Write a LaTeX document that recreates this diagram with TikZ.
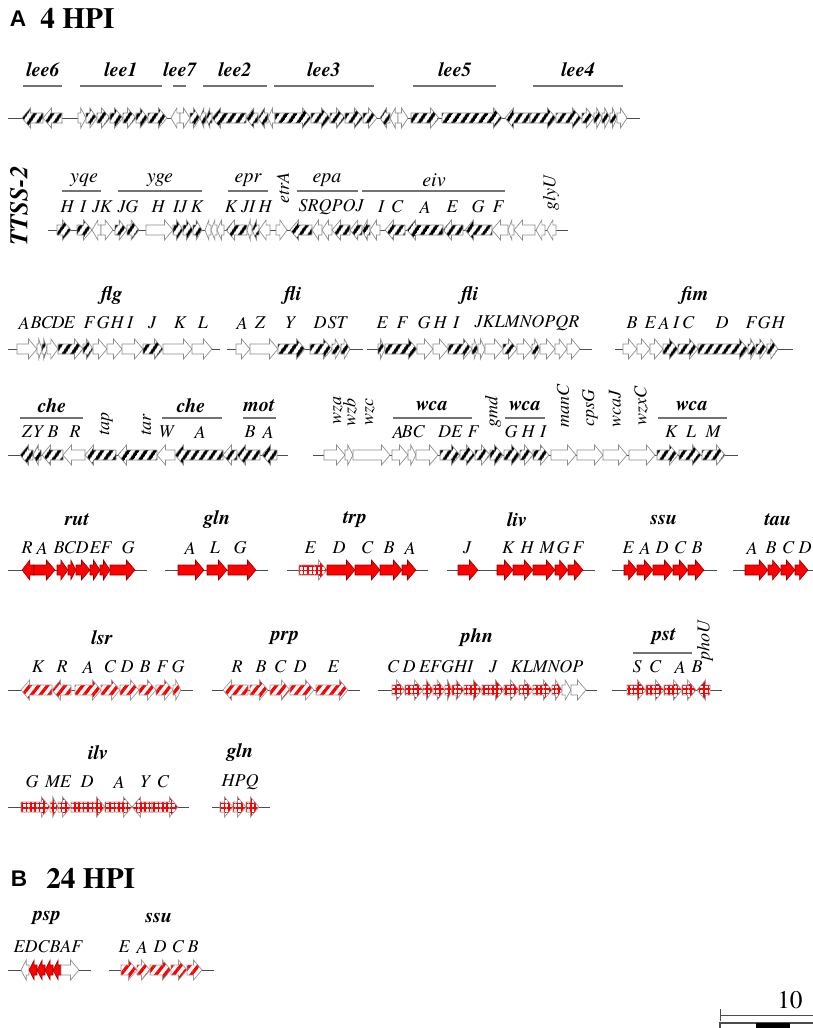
\documentclass[tikz,border=0pt]{standalone}
\usepackage{fontspec}
\setmainfont{texgyretermes}[Extension=.otf,UprightFont=*-regular,BoldFont=*-bold,ItalicFont=*-italic,BoldItalicFont=*-bolditalic]
\newfontfamily\sansb{Liberation Sans}
\usetikzlibrary{patterns.meta}
\newcounter{nn}
\newcommand\G[4]{%
  \pgfmathsetmacro\hl{min(8.5,0.65*(#2-#1))}%
  \if#3r
    \path[#4] (#1,-5) -- ({#2-\hl},-5) -- ({#2-\hl},-10) -- (#2,0) -- ({#2-\hl},10) -- ({#2-\hl},5) -- (#1,5) -- cycle;
  \else
    \path[#4] (#2,-5) -- ({#1+\hl},-5) -- ({#1+\hl},-10) -- (#1,0) -- ({#1+\hl},10) -- ({#1+\hl},5) -- (#2,5) -- cycle;
  \fi}
\newcommand\GL[3]{\stepcounter{nn}\node[grp] (g\arabic{nn}) at (#1,#2) {#3};}
\newcommand\LL[3]{\stepcounter{nn}\node[let] (l\arabic{nn}) at (#1,#2) {#3};}
\newcommand\RL[3]{\stepcounter{nn}\node[let,rotate=90] (r\arabic{nn}) at (#1,#2) {#3};}
\tikzset{
  W/.style={draw=black!45,fill=white,line width=0.5pt},
  H/.style={draw=black!45,line width=0.5pt,preaction={fill=white},pattern={Lines[angle=56,distance=5.4pt,line width=2.6pt]},pattern color=black},
  R/.style={draw=red!55!black,fill=red,line width=0.4pt},
  RH/.style={draw=black!40,line width=0.5pt,preaction={fill=white},pattern={Lines[angle=52,distance=5.2pt,line width=2.4pt]},pattern color=red},
  RG/.style={draw=black!40,line width=0.5pt,preaction={fill=white},pattern={Hatch[angle=0,distance=3.3pt,line width=1.15pt]},pattern color=red},
  chrom/.style={draw=black!70,line width=0.6pt},
  bar/.style={draw=black!55,line width=0.8pt},
  grp/.style={font=\fontsize{15}{16}\selectfont\bfseries\itshape,inner sep=0pt},
  let/.style={font=\fontsize{13.5}{15}\selectfont\itshape,inner sep=0pt},
}
\begin{document}
\begin{tikzpicture}[x=0.75pt,y=-0.75pt]
\useasboundingbox (0,0) rectangle (813,1028);
% ---------- titles
\node[font=\sansb\bfseries\fontsize{17}{18}\selectfont,inner sep=0pt] (tA) at (18,19) {A};
\node[font=\bfseries\fontsize{22}{24}\selectfont,inner sep=0pt,anchor=west] (tA2) at (40,18) {4 HPI};
\node[font=\sansb\bfseries\fontsize{17}{18}\selectfont,inner sep=0pt] (tB) at (19,879) {B};
\node[font=\bfseries\fontsize{22}{24}\selectfont,inner sep=0pt,anchor=west] (tB2) at (46,878) {24 HPI};
% ---------- lee row
\GL{43}{70}{lee6}\GL{121}{70}{lee1}\GL{180}{70}{lee7}\GL{235}{70}{lee2}\GL{324}{70}{lee3}\GL{455}{70}{lee5}\GL{578}{70}{lee4}
\draw[bar] (23,86)--(62,86); \draw[bar] (80,86)--(162,86); \draw[bar] (173,86)--(186,86); \draw[bar] (203,86)--(267,86);
\draw[bar] (274,86)--(374,86); \draw[bar] (413,86)--(496,86); \draw[bar] (533,86)--(623,86);
\begin{scope}[shift={(0,118)}]
\draw[chrom] (8,0)--(640,0);
\G{22}{43}{l}{H}\G{43}{62}{l}{H}
\G{78}{86}{r}{W}\G{86}{97}{r}{H}\G{97}{110}{r}{H}\G{110}{123}{r}{H}\G{123}{136}{r}{H}\G{136}{148}{r}{H}\G{148}{167}{r}{H}
\G{171}{180}{l}{W}\G{180}{190}{r}{W}\G{190}{200}{r}{H}\G{200}{206}{l}{H}\G{206}{212}{l}{H}\G{212}{246}{l}{H}\G{246}{258}{l}{H}\G{258}{268}{l}{H}\G{268}{275}{l}{W}
\G{275}{311}{r}{H}\G{311}{330}{r}{H}\G{330}{345}{r}{H}\G{345}{363}{r}{H}\G{363}{377}{r}{H}
\G{380}{390}{l}{H}\G{390}{398}{l}{W}\G{398}{408}{r}{W}
\G{411}{439}{r}{H}\G{442}{502}{r}{H}\G{505}{530}{l}{H}\G{530}{556}{r}{H}\G{556}{581}{r}{H}\G{582}{594}{r}{H}\G{594}{602}{r}{H}\G{602}{610}{r}{H}\G{610}{617}{r}{H}\G{617}{627}{r}{W}
\end{scope}
% ---------- TTSS-2 row
\node[grp,rotate=90,font=\fontsize{19}{20}\selectfont\bfseries\itshape] (tt) at (19,206) {TTSS-2};
\GL{84}{180}{\mdseries yqe}\GL{160}{180}{\mdseries yge}\GL{248}{180}{\mdseries epr}\GL{327}{180}{\mdseries epa}\GL{434}{180}{\mdseries eiv}
\draw[bar] (62,191)--(101,191); \draw[bar] (118,191)--(202,191); \draw[bar] (228,191)--(268,191); \draw[bar] (297,191)--(358,191); \draw[bar] (362,191)--(505,191);
\LL{67}{207}{H}\LL{83}{207}{I}\LL{102}{207}{JK}\LL{128}{207}{JG}\LL{158}{207}{H}\LL{180}{207}{IJ}\LL{197}{207}{K}
\LL{231}{207}{K}\LL{248}{207}{JI}\LL{265}{207}{H}\RL{283}{188}{etrA}
\LL{331}{207}{SRQPOJ}\LL{381}{207}{I}\LL{397}{207}{C}\LL{425}{207}{A}\LL{452}{207}{E}\LL{478}{207}{G}\LL{498}{207}{F}
\RL{551}{193}{glyU}
\begin{scope}[shift={(0,230)}]
\draw[chrom] (48,0)--(568,0);
\G{57}{71}{r}{H}\G{77}{92}{r}{H}\G{92}{101}{l}{W}\G{101}{113}{r}{W}
\G{115}{127}{r}{H}\G{127}{139}{r}{H}\G{146}{173}{r}{W}\G{173}{183}{r}{H}\G{183}{193}{r}{H}\G{193}{202}{r}{H}
\G{205}{211}{l}{W}\G{211}{217}{l}{W}\G{217}{224}{l}{W}\G{226}{247}{l}{H}\G{247}{252}{l}{W}\G{252}{259}{l}{H}\G{259}{270}{l}{W}
\G{276}{287}{r}{W}
\G{290}{312}{l}{H}\G{312}{322}{l}{W}\G{322}{332}{l}{W}\G{332}{350}{l}{H}\G{350}{362}{l}{H}\G{362}{370}{l}{H}\G{370}{380}{l}{W}
\G{385}{405}{l}{H}\G{407}{443}{l}{H}\G{443}{463}{l}{H}\G{465}{492}{l}{H}\G{492}{508}{l}{W}\G{508}{514}{l}{W}\G{514}{535}{l}{W}\G{536}{545}{l}{W}\G{547}{556}{l}{W}
\end{scope}
% ---------- flg / fli / fim row
\GL{112}{296}{flg}\GL{293}{296}{fli}\GL{470}{296}{fli}\GL{695}{296}{fim}
\LL{24}{323}{A}\LL{36}{323}{B}\LL{47}{323}{C}\LL{58}{323}{D}\LL{69}{323}{E}\LL{89}{323}{F}\LL{103}{323}{G}\LL{117}{323}{H}\LL{130}{323}{I}\LL{152}{323}{J}\LL{180}{323}{K}\LL{203}{323}{L}
\LL{242}{323}{A}\LL{260}{323}{Z}\LL{290}{323}{Y}\LL{320}{323}{D}\LL{337}{323}{ST}
\LL{382}{323}{E}\LL{402}{323}{F}\LL{424}{323}{G}\LL{440}{323}{H}\LL{456}{323}{I}\LL{527}{323}{JKLMNOPQR}
\LL{632}{323}{B}\LL{650}{323}{E}\LL{664}{323}{A}\LL{676}{323}{I}\LL{688}{323}{C}\LL{722}{323}{D}\LL{751}{323}{F}\LL{764}{323}{G}\LL{778}{323}{H}
\begin{scope}[shift={(0,349)}]
\draw[chrom] (8,0)--(220,0); \draw[chrom] (227,0)--(363,0); \draw[chrom] (367,0)--(592,0); \draw[chrom] (615,0)--(793,0);
\G{17}{37}{r}{W}\G{37}{42}{r}{W}\G{42}{47}{r}{H}\G{47}{58}{r}{W}\G{58}{83}{r}{H}\G{83}{93}{r}{H}\G{93}{107}{r}{W}\G{107}{122}{r}{W}\G{122}{143}{r}{W}\G{143}{163}{r}{H}\G{163}{192}{r}{W}\G{192}{212}{r}{W}
\G{236}{250}{r}{W}\G{250}{278}{r}{W}\G{278}{305}{r}{H}\G{310}{332}{r}{H}\G{332}{341}{r}{H}\G{341}{350}{r}{H}
\G{378}{385}{r}{H}\G{385}{417}{r}{H}\G{417}{433}{r}{W}\G{433}{448}{r}{W}\G{448}{472}{r}{H}\G{472}{478}{r}{H}\G{478}{485}{r}{W}\G{485}{503}{r}{W}\G{503}{517}{r}{H}\G{517}{532}{r}{W}\G{532}{540}{r}{H}\G{540}{555}{r}{W}\G{555}{567}{r}{W}\G{567}{580}{r}{W}
\G{623}{637}{r}{W}\G{637}{650}{r}{W}\G{650}{663}{r}{W}\G{663}{678}{r}{H}\G{678}{698}{r}{H}\G{698}{748}{r}{H}\G{748}{756}{r}{H}\G{756}{767}{r}{H}\G{767}{778}{r}{H}
\end{scope}
% ---------- che / wca row
\GL{52}{406}{che}\GL{191}{406}{che}\GL{259}{406}{mot}\GL{432}{406}{wca}\GL{525}{406}{wca}\GL{692}{406}{wca}
\draw[bar] (20,418)--(83,418); \draw[bar] (162,418)--(222,418); \draw[bar] (243,418)--(276,418);
\draw[bar] (393,418)--(472,418); \draw[bar] (505,418)--(545,418); \draw[bar] (658,418)--(727,418);
\LL{27}{432}{Z}\LL{38}{432}{Y}\LL{53}{432}{B}\LL{75}{432}{R}\RL{106}{424}{tap}\RL{146}{425}{tar}\LL{166}{432}{W}\LL{200}{432}{A}\LL{250}{432}{B}\LL{268}{432}{A}
\RL{338}{410}{wza}\RL{350}{412}{wzb}\RL{370}{412}{wzc}\LL{398}{432}{A}\LL{413}{432}{BC}\LL{450}{432}{DE}\LL{473}{432}{F}\RL{493}{412}{gmd}
\LL{511}{432}{G}\LL{528}{432}{H}\LL{543}{432}{I}\RL{563}{406}{manC}\RL{590}{408}{cpsG}\RL{615}{409}{wcaJ}\RL{641}{406}{wzxC}
\LL{671}{432}{K}\LL{691}{432}{L}\LL{713}{432}{M}
\begin{scope}[shift={(0,455)}]
\draw[chrom] (8,0)--(288,0); \draw[chrom] (313,0)--(738,0);
\G{20}{33}{l}{H}\G{33}{41}{l}{H}\G{42}{63}{l}{H}\G{63}{85}{l}{W}\G{85}{116}{l}{H}\G{118}{157}{l}{H}\G{157}{175}{l}{W}\G{175}{223}{l}{H}\G{223}{237}{l}{H}\G{237}{260}{l}{H}\G{262}{277}{l}{H}
\G{324}{345}{r}{W}\G{345}{353}{r}{W}\G{353}{390}{r}{W}\G{392}{408}{r}{W}\G{408}{416}{r}{W}\G{416}{438}{r}{W}\G{440}{460}{r}{H}\G{460}{475}{r}{H}\G{475}{490}{r}{H}\G{490}{503}{r}{H}\G{504}{520}{r}{H}\G{520}{533}{r}{H}\G{533}{549}{r}{H}
\G{551}{576}{r}{W}\G{577}{603}{r}{W}\G{603}{627}{r}{W}\G{629}{655}{r}{W}\G{657}{678}{r}{H}\G{679}{701}{r}{H}\G{702}{725}{r}{H}
\end{scope}
% ---------- rut row (solid red)
\GL{77}{520}{rut}\GL{217}{520}{gln}\GL{355}{520}{trp}\GL{517}{520}{liv}\GL{664}{520}{ssu}\GL{778}{520}{tau}
\LL{27}{548}{R}\LL{42}{548}{A}\LL{59}{548}{B}\LL{70}{548}{C}\LL{82}{548}{D}\LL{95}{548}{E}\LL{106}{548}{F}\LL{128}{548}{G}
\LL{190}{548}{A}\LL{215}{548}{L}\LL{240}{548}{G}
\LL{310}{548}{E}\LL{339}{548}{D}\LL{367}{548}{C}\LL{389}{548}{B}\LL{410}{548}{A}
\LL{467}{548}{J}\LL{508}{548}{K}\LL{527}{548}{H}\LL{547}{548}{M}\LL{563}{548}{G}\LL{578}{548}{F}
\LL{628}{548}{E}\LL{645}{548}{A}\LL{662}{548}{D}\LL{680}{548}{C}\LL{697}{548}{B}
\LL{752}{548}{A}\LL{771}{548}{B}\LL{788}{548}{C}\LL{805}{548}{D}
\begin{scope}[shift={(0,570)}]
\draw[chrom] (8,0)--(147,0); \draw[chrom] (165,0)--(268,0); \draw[chrom] (287,0)--(428,0); \draw[chrom] (447,0)--(595,0); \draw[chrom] (612,0)--(717,0); \draw[chrom] (733,0)--(813,0);
\G{22}{34}{l}{R}\G{34}{55}{r}{R}\G{57}{68}{r}{R}\G{68}{76}{r}{R}\G{76}{90}{r}{R}\G{90}{100}{r}{R}\G{100}{110}{r}{R}\G{110}{135}{r}{R}
\G{178}{204}{r}{R}\G{207}{227}{r}{R}\G{228}{256}{r}{R}
\G{299}{327}{r}{RG}\G{327}{355}{r}{R}\G{355}{380}{r}{R}\G{380}{402}{r}{R}\G{402}{416}{r}{R}
\G{458}{478}{r}{R}\G{497}{513}{r}{R}\G{513}{533}{r}{R}\G{533}{555}{r}{R}\G{555}{568}{r}{R}\G{568}{583}{r}{R}
\G{624}{637}{r}{R}\G{637}{653}{r}{R}\G{653}{673}{r}{R}\G{673}{688}{r}{R}\G{688}{704}{r}{R}
\G{745}{768}{r}{R}\G{768}{781}{r}{R}\G{781}{795}{r}{R}\G{795}{808}{r}{R}
\end{scope}
% ---------- lsr row
\GL{102}{638}{lsr}\GL{285}{638}{prp}\GL{477}{638}{phn}\GL{664}{637}{pst}
\draw[bar] (633,653)--(692,653);
\LL{38}{667}{K}\LL{62}{667}{R}\LL{88}{667}{A}\LL{110}{667}{C}\LL{127}{667}{D}\LL{145}{667}{B}\LL{162}{667}{F}\LL{178}{667}{G}
\LL{237}{667}{R}\LL{261}{667}{B}\LL{280}{667}{C}\LL{300}{667}{D}\LL{333}{667}{E}
\LL{393}{667}{C}\LL{409}{667}{D}\LL{446}{667}{EFGHI}\LL{493}{667}{J}\LL{547}{667}{KLMNOP}
\LL{637}{667}{S}\LL{655}{667}{C}\LL{680}{667}{A}\LL{697}{667}{B}\RL{705}{640}{phoU}
\begin{scope}[shift={(0,690)}]
\draw[chrom] (8,0)--(193,0); \draw[chrom] (212,0)--(360,0); \draw[chrom] (378,0)--(597,0); \draw[chrom] (612,0)--(722,0);
\G{21}{52}{l}{RH}\G{52}{71}{l}{RH}\G{75}{101}{r}{RH}\G{101}{120}{r}{RH}\G{120}{139}{r}{RH}\G{139}{156}{r}{RH}\G{156}{173}{r}{RH}\G{173}{181}{r}{RH}
\G{223}{248}{l}{RH}\G{250}{268}{r}{RH}\G{270}{290}{r}{RH}\G{290}{314}{r}{RH}\G{316}{348}{r}{RH}
\G{392}{405}{r}{RG}\G{405}{423}{r}{RG}\G{423}{433}{r}{RG}\G{433}{445}{r}{RG}\G{445}{452}{r}{RG}\G{452}{464}{r}{RG}\G{464}{482}{r}{RG}\G{482}{504}{r}{RG}\G{504}{519}{r}{RG}\G{519}{533}{r}{RG}\G{533}{552}{r}{RG}\G{552}{562}{r}{RG}\G{562}{571}{r}{W}\G{571}{586}{r}{W}
\G{627}{646}{r}{RG}\G{646}{664}{r}{RG}\G{664}{682}{r}{RG}\G{682}{696}{r}{RG}\G{697}{710}{l}{RG}
\end{scope}
% ---------- ilv row
\GL{98}{753}{ilv}\GL{240}{753}{gln}
\LL{32}{782}{G}\LL{58}{782}{ME}\LL{87}{782}{D}\LL{119}{782}{A}\LL{145}{782}{Y}\LL{163}{782}{C}\LL{240}{782}{HPQ}
\begin{scope}[shift={(0,807)}]
\draw[chrom] (8,0)--(189,0); \draw[chrom] (212,0)--(270,0);
\G{21}{50}{r}{RG}\G{50}{58}{r}{RG}\G{58}{71}{r}{RG}\G{71}{105}{r}{RG}\G{105}{132}{r}{RG}\G{132}{152}{l}{RG}\G{152}{178}{r}{RG}
\G{220}{233}{r}{RG}\G{233}{246}{r}{RG}\G{246}{259}{r}{RG}
\end{scope}
% ---------- B panel
\GL{47}{918}{psp}\GL{159}{918}{ssu}
\LL{48}{947}{EDCBAF}\LL{124}{947}{E}\LL{142}{947}{A}\LL{160}{947}{D}\LL{178}{947}{C}\LL{193}{947}{B}
\begin{scope}[shift={(0,970)}]
\draw[chrom] (8,0)--(91,0); \draw[chrom] (109,0)--(214,0);
\G{21}{29}{l}{W}\G{29}{37}{l}{R}\G{37}{45}{l}{R}\G{45}{53}{l}{R}\G{53}{61}{l}{R}\G{61}{79}{r}{W}
\G{121}{137}{r}{RH}\G{137}{150}{r}{RH}\G{150}{171}{r}{RH}\G{171}{187}{r}{RH}\G{187}{202}{r}{RH}
\end{scope}
% ---------- scale
\node[font=\fontsize{19}{20}\selectfont,inner sep=0pt,anchor=west] (sc) at (777,1000) {10};
\draw[black!70,line width=0.7pt] (720,1015)--(813,1015);
\draw[black!70,line width=0.7pt] (720,1009)--(720,1021);
\draw[black!70,line width=0.8pt] (720,1023) rectangle (830,1040);
\fill[black] (756,1023) rectangle (790,1040);
\end{tikzpicture}
\end{document}
